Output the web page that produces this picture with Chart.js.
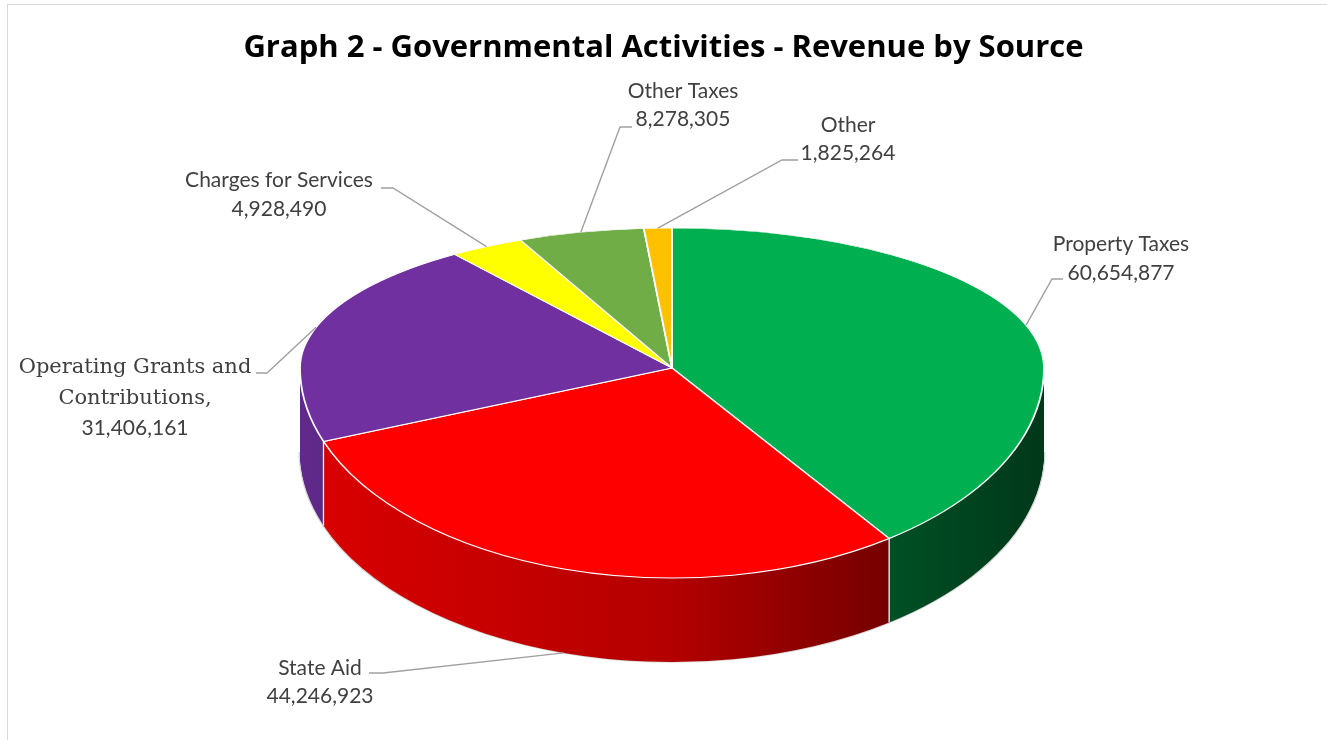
<!DOCTYPE html>
<html>
<head>
<meta charset="utf-8">
<title>Revenue by Source</title>
<script src="https://cdn.jsdelivr.net/npm/chart.js@4/dist/chart.umd.min.js"></script>
<style>
  html, body { margin: 0; padding: 0; background: #fff; }
  canvas { display: block; }
</style>
</head>
<body>
<canvas id="chPie" width="1327" height="740"></canvas>
<script>
var categories = ['Property Taxes', 'State Aid', 'Operating Grants and Contributions', 'Charges for Services', 'Other Taxes', 'Other'];
var amounts = [60654877, 44246923, 31406161, 4928490, 8278305, 1825264];
var colors = ['#00B050', '#FF0000', '#7030A0', '#FFFF00', '#70AD47', '#FFC000'];

// label text as it wraps on the page
var labelLines = [['Property Taxes'], ['State Aid'], ['Operating Grants and', 'Contributions,'], ['Charges for Services'], ['Other Taxes'], ['Other']];

// where each label sits and where its leader line bends
var labelBoxes = [
  { x: 1121, y: 251, lh: 29, elbow: [1052, 279], end: [1063, 279] },
  { x: 320,  y: 675, lh: 28, elbow: [383, 673],  end: [369, 673] },
  { x: 135,  y: 373, lh: 31, elbow: [267, 373],  end: [256, 373], serif: true },
  { x: 279,  y: 187, lh: 29, elbow: [393, 188],  end: [381, 188] },
  { x: 683,  y: 98,  lh: 28, elbow: [620, 127],  end: [632, 127] },
  { x: 848,  y: 132, lh: 28, elbow: [782, 160],  end: [798, 160] }
];

// tilted disc: centre, half width, back/front half heights, wall depth
var CX = 672, CY = 368, RX = 372, RY_BACK = 140, RY_FRONT = 210, DEPTH = 84;

function shade(hex, f) {
  var n = parseInt(hex.slice(1), 16);
  var r = (n >> 16) & 255, g = (n >> 8) & 255, b = n & 255;
  return 'rgb(' + Math.round(r * f) + ',' + Math.round(g * f) + ',' + Math.round(b * f) + ')';
}

function clipRect(ctx, x, y, w, h) {
  ctx.beginPath();
  ctx.rect(x, y, w, h);
  ctx.clip();
}

// squash the library's circle into one half of the ellipse
function halfTransform(ctx, arc, ry, dy) {
  var p = arc.getProps(['x', 'y', 'outerRadius'], true);
  ctx.translate(CX, CY + dy);
  ctx.scale(RX / p.outerRadius, ry / p.outerRadius);
  ctx.translate(-p.x, -p.y);
}

function project(ang, dy) {
  var ry = Math.sin(ang) > 0 ? RY_FRONT : RY_BACK;
  return { x: CX + Math.cos(ang) * RX, y: CY + Math.sin(ang) * ry + (dy || 0) };
}

function drawArcWith(arc, ctx, over) {
  var keep = arc.options;
  arc.options = Object.assign({}, keep, over);
  arc.draw(ctx);
  arc.options = keep;
}

var pie3d = {
  id: 'pie3d',
  beforeDraw: function (chart) {
    var ctx = chart.ctx;
    ctx.save();
    ctx.strokeStyle = '#d9d9d9';
    ctx.lineWidth = 1;
    ctx.strokeRect(7.5, 4.5, chart.width + 20, chart.height + 20);
    ctx.restore();
  },
  beforeDatasetsDraw: function (chart) {
    var ctx = chart.ctx, arcs = chart.getDatasetMeta(0).data;
    var W = chart.width, H = chart.height;
    var p0 = arcs[0].getProps(['x', 'outerRadius'], true);

    var wallFills = colors.map(function (c) {
      var g = ctx.createLinearGradient(p0.x - p0.outerRadius, 0, p0.x + p0.outerRadius, 0);
      g.addColorStop(0, shade(c, 0.86));
      g.addColorStop(0.5, shade(c, 0.7));
      g.addColorStop(0.8, shade(c, 0.45));
      g.addColorStop(1, shade(c, 0.32));
      return g;
    });

    // faint outline along the bottom of the wall
    ctx.save();
    clipRect(ctx, 0, CY + DEPTH, W, H);
    halfTransform(ctx, arcs[0], RY_FRONT, DEPTH);
    arcs.forEach(function (a) {
      drawArcWith(a, ctx, { backgroundColor: 'rgba(0,0,0,0)', borderColor: '#d6d6d6', borderWidth: 2.5 });
    });
    ctx.restore();

    // side wall, stacked front halves
    for (var d = DEPTH; d >= 1; d--) {
      ctx.save();
      clipRect(ctx, 0, CY + d, W, H - CY - d);
      halfTransform(ctx, arcs[0], RY_FRONT, d);
      arcs.forEach(function (a, i) {
        drawArcWith(a, ctx, { backgroundColor: wallFills[i], borderWidth: 0 });
      });
      ctx.restore();
    }

    // seams where slices meet on the wall
    ctx.save();
    ctx.strokeStyle = '#f4f4f4';
    ctx.lineWidth = 1.3;
    arcs.forEach(function (a) {
      var ang = a.getProps(['startAngle'], true).startAngle;
      if (Math.sin(ang) > 0.05) {
        var p = project(ang, 0);
        ctx.beginPath();
        ctx.moveTo(p.x, p.y);
        ctx.lineTo(p.x, p.y + DEPTH);
        ctx.stroke();
      }
    });
    ctx.restore();

    // top face, back half then front half
    ctx.save();
    clipRect(ctx, 0, 0, W, CY);
    halfTransform(ctx, arcs[0], RY_BACK, 0);
    arcs.forEach(function (a) {
      drawArcWith(a, ctx, { borderColor: '#e6e6e6' });
    });
    arcs.forEach(function (a) { a.draw(ctx); });
    ctx.restore();

    ctx.save();
    clipRect(ctx, 0, CY, W, H - CY);
    halfTransform(ctx, arcs[0], RY_FRONT, 0);
    arcs.forEach(function (a) { a.draw(ctx); });
    ctx.restore();

    return false;
  },
  afterDraw: function (chart) {
    var ctx = chart.ctx, arcs = chart.getDatasetMeta(0).data;
    ctx.save();
    arcs.forEach(function (a, i) {
      var pr = a.getProps(['startAngle', 'endAngle'], true);
      var mid = (pr.startAngle + pr.endAngle) / 2;
      var rim = project(mid, Math.sin(mid) > 0 ? DEPTH : 0);
      var box = labelBoxes[i];

      ctx.strokeStyle = '#a0a0a0';
      ctx.lineWidth = 1.4;
      ctx.beginPath();
      ctx.moveTo(rim.x, rim.y);
      ctx.lineTo(box.elbow[0], box.elbow[1]);
      ctx.lineTo(box.end[0], box.end[1]);
      ctx.stroke();

      ctx.fillStyle = '#404040';
      ctx.textAlign = 'center';
      ctx.textBaseline = 'alphabetic';
      var lines = labelLines[i];
      lines.forEach(function (t, k) {
        ctx.font = box.serif ? '21px "DejaVu Serif"' : '21px Lato';
        ctx.fillText(t, box.x, box.y + k * box.lh);
      });
      ctx.font = '21px Lato';
      ctx.fillText(amounts[i].toLocaleString('en-US'), box.x, box.y + lines.length * box.lh);
    });
    ctx.restore();
  }
};

new Chart(document.getElementById('chPie'), {
  type: 'pie',
  data: {
    labels: categories,
    datasets: [{
      data: amounts,
      backgroundColor: colors,
      borderColor: '#ffffff',
      borderWidth: 1.6
    }]
  },
  options: {
    responsive: false,
    animation: false,
    devicePixelRatio: 1,
    layout: { padding: 0 },
    plugins: {
      legend: { display: false },
      tooltip: { enabled: false },
      title: {
        display: true,
        text: 'Graph 2 - Governmental Activities - Revenue by Source',
        color: '#000000',
        font: { family: '"Open Sans"', weight: 'bold', size: 31, lineHeight: 1.2 },
        padding: { top: 30, bottom: 10 }
      }
    }
  },
  plugins: [pie3d]
});
</script>
</body>
</html>
